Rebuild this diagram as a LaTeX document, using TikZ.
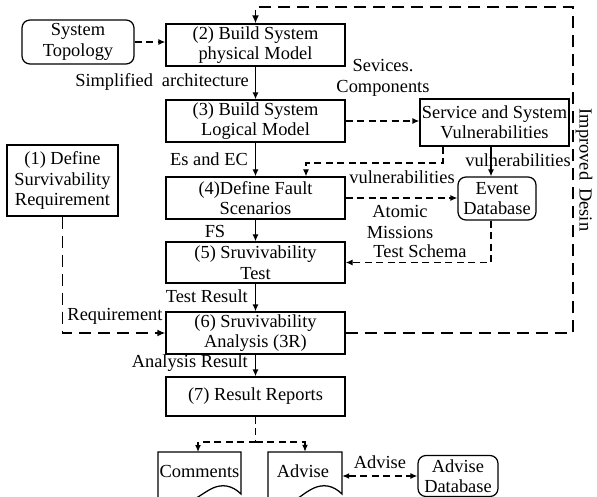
\documentclass[tikz,border=0pt]{standalone}
\usepackage{fontspec}
\setmainfont{Liberation Serif}
\usetikzlibrary{arrows.meta}
\newcommand{\fs}{\fontsize{18.4}{20.5}\selectfont}
\begin{document}
\begin{tikzpicture}[x=1pt,y=-1pt,
  box/.style={draw, line width=1.25pt, inner sep=0pt, align=center, font=\fs},
  rbox/.style={box, rounded corners=8pt},
  lbl/.style={inner sep=1pt, align=center, font=\fs},
  arr/.style={line width=1.25pt, -{Latex[length=7pt,width=6pt]}},
  darr/.style={arr, dash pattern=on 7pt off 4.5pt},
  ldarr/.style={line width=1.7pt, dash pattern=on 12pt off 7pt, -{Latex[length=8pt,width=7pt]}},
  ddarr/.style={line width=1.25pt, dash pattern=on 7pt off 4.5pt, {Latex[length=7pt,width=6pt]}-{Latex[length=7pt,width=6pt]}},
  docshape/.style={draw, line width=1.25pt}
]
\useasboundingbox (0,0) rectangle (597,497);

% nodes
\node[rbox, minimum width=112pt, minimum height=44pt] (topo) at (78,42) {System\\Topology};
\node[box, minimum width=179pt, minimum height=42pt] (m2) at (255.5,45) {(2) Build System\\physical Model};
\node[box, minimum width=179pt, minimum height=42pt] (m3) at (255.5,121) {(3) Build System\\Logical Model};
\node[box, minimum width=149pt, minimum height=47pt] (svc) at (494.5,122.5) {Service and System\\Vulnerabilities};
\node[box, minimum width=111pt, minimum height=71pt] (m1) at (62.5,180.5) {(1) Define\\Survivability\\Requirement};
\node[box, minimum width=179pt, minimum height=42pt] (m4) at (255.5,198) {(4)Define Fault\\Scenarios};
\node[rbox, minimum width=78pt, minimum height=43pt] (evdb) at (497,198.5) {Event\\Database};
\node[box, minimum width=179pt, minimum height=41pt] (m5) at (255.5,262.5) {(5) Sruvivability\\Test};
\node[box, minimum width=179pt, minimum height=42pt] (m6) at (255.5,333) {(6) Sruvivability\\Analysis (3R)};
\node[box, minimum width=179pt, minimum height=39pt] (m7) at (255.5,396.5) {(7) Result Reports};
\node[rbox, minimum width=80pt, minimum height=41pt] (advdb) at (458,476) {Advise\\Database};

% document shapes
\draw[docshape] (158,452) -- (241,452) -- (241,494)
  .. controls (232,485) and (222,484) .. (213,488)
  .. controls (204,492) and (196,500) .. (185,503)
  .. controls (175,505) and (165,503) .. (158,500) -- cycle;
\draw[docshape] (268,452) -- (342,452) -- (342,494)
  .. controls (333,485) and (323,484) .. (314,488)
  .. controls (305,492) and (297,500) .. (290,503)
  .. controls (282,505) and (274,503) .. (268,500) -- cycle;
\node[lbl, minimum width=83pt, minimum height=45pt, inner sep=0pt] (com) at (199.5,474.5) {};
\node[lbl] at (199.5,471) {Comments};
\node[lbl, minimum width=74pt, minimum height=45pt, inner sep=0pt] (adv) at (305,474.5) {};
\node[lbl] at (303,471) {Advise};

% coordinates
\coordinate (tr) at (573,7);
\coordinate (a1) at (443,163);
\coordinate (a2) at (306,163);
\coordinate (evx) at (491,0);
\coordinate (br) at (255.5,442);

% connectors
\draw[darr] (topo.east) -- (topo.east -| m2.west);
\draw[arr] (m2.south) -- (m3.north);
\draw[ldarr] (m6.east) -- (m6.east -| tr) -- (tr) -- (tr -| m2.north) -- (m2.north);
\draw[darr] (m3.east) -- (m3.east -| svc.west);
\draw[darr] (svc.south -| a1) -- (a1) -- (a2) -- (a2 |- m4.north);
\draw[arr] (svc.south -| evx) -- (evx |- evdb.north);
\draw[arr] (m3.south) -- (m4.north);
\draw[darr] (m4.east) -- (m4.east -| evdb.west);
\draw[darr] (evdb.south -| evx) -- (evx |- m5.east) -- (m5.east);
\draw[arr] (m4.south) -- (m5.north);
\draw[arr] (m5.south) -- (m6.north);
\draw[ldarr] (m1.south) -- (m1.south |- m6.west) -- (m6.west);
\draw[arr] (m6.south) -- (m7.north);
\draw[line width=1.25pt, dash pattern=on 7pt off 4.5pt] (m7.south) -- (br);
\draw[darr] (br) -| (198,452);
\draw[darr] (br) -| (adv.north);
\draw[ddarr] (advdb.west -| adv.east) -- (advdb.west);

% labels
\node[lbl, anchor=east] at (250,82) {Simplified\hspace{9pt}architecture};
\node[lbl] at (383,78) {Sevices.\\Components};
\node[lbl, anchor=east] at (249,159) {Es and EC};
\node[lbl] at (402,177) {vulnerabilities};
\node[lbl] at (518,160) {vulnerabilities};
\node[lbl] at (400,222) {Atomic\\Missions};
\node[lbl] at (420,251) {Test Schema};
\node[lbl] at (215,231) {FS};
\node[lbl, anchor=east] at (249,296) {Test Result};
\node[lbl] at (115,316) {Requirement};
\node[lbl, anchor=east] at (249,363) {Analysis Result};
\node[lbl] at (380,462) {Advise};
\node[lbl, rotate=-90] at (584,170) {Improved\hspace{8pt}Desin};
\end{tikzpicture}
\end{document}
